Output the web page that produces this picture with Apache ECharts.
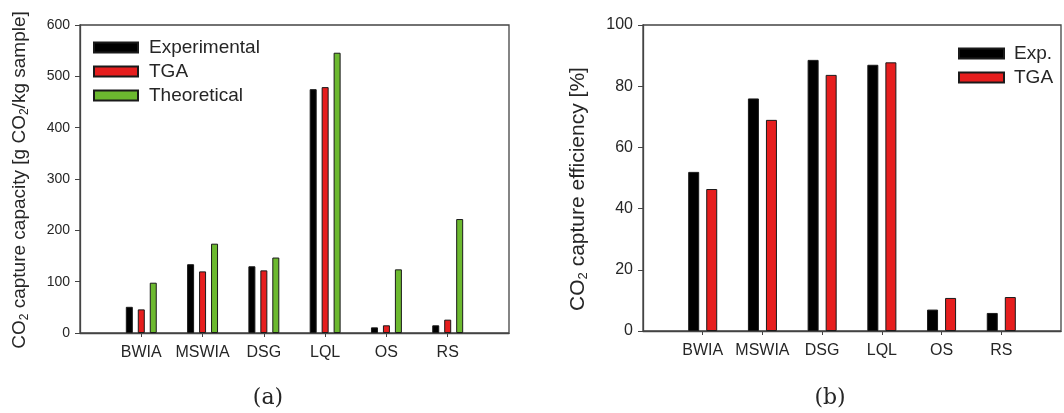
<!DOCTYPE html>
<html>
<head>
<meta charset="utf-8">
<script src="https://cdn.jsdelivr.net/npm/echarts@6/dist/echarts.min.js"></script>
<style>
  html, body { margin: 0; padding: 0; background: #fff; }
  #main { width: 1064px; height: 413px; }
</style>
</head>
<body>
<div id="main"></div>
<script>
// samples on the x axis
const categories = ['BWIA', 'MSWIA', 'DSG', 'LQL', 'OS', 'RS']

// (a) CO2 capture capacity [g CO2/kg sample]
const capExp = [51, 134, 130, 475, 11, 15]
const capTga = [46, 120, 122, 479, 15, 26]
const capTheo = [98, 174, 147, 546, 124, 222]

// (b) CO2 capture efficiency [%]
const effExp = [52, 76, 88.6, 87, 7, 5.9]
const effTga = [46.4, 69, 83.7, 87.8, 10.8, 11.1]

const capTicks = [0, 600, 100]
const effTicks = [0, 100, 20]

const FONT = '"Liberation Sans", Arial, sans-serif'
const AXIS_COLOR = '#444'
const TEXT_COLOR = '#262626'

const BLACK = '#000000'
const RED = '#e61e1e'
const GREEN = '#6cb92f'

// empty slot at both ends so categories sit on 1..6 of a 0..7 axis
const pad = arr => [null, ...arr, null]
const xCats = pad(categories).map(c => c || '')

const chart = echarts.init(document.getElementById('main'))

function xAxisFor(gridIndex, fontSize) {
  return {
    type: 'category',
    gridIndex,
    data: xCats,
    boundaryGap: false,
    axisLine: { lineStyle: { color: AXIS_COLOR, width: 1.3 } },
    axisTick: {
      length: 4,
      lineStyle: { color: AXIS_COLOR },
      interval: (idx, val) => val !== ''
    },
    axisLabel: {
      interval: 0,
      margin: 12,
      color: TEXT_COLOR,
      fontFamily: FONT,
      fontSize
    },
    splitLine: { show: false }
  }
}

function yAxisFor(gridIndex, ticks, fontSize) {
  return {
    type: 'value',
    gridIndex,
    min: ticks[0],
    max: ticks[1],
    interval: ticks[2],
    axisLine: { show: true, lineStyle: { color: AXIS_COLOR, width: 1.3 } },
    axisTick: { show: true, length: 5, lineStyle: { color: AXIS_COLOR } },
    axisLabel: { margin: 10, color: TEXT_COLOR, fontFamily: FONT, fontSize },
    splitLine: { show: false }
  }
}

function barSeries(name, data, color, idx, barWidth, barGap) {
  return {
    name,
    type: 'bar',
    xAxisIndex: idx,
    yAxisIndex: idx,
    data: pad(data),
    barWidth,
    barGap,
    itemStyle: { color, borderColor: '#1a1a1a', borderWidth: 1 },
    emphasis: { disabled: true }
  }
}

function titleRich(size, subSize) {
  return {
    a: { fontFamily: FONT, fontSize: size, fill: TEXT_COLOR, color: TEXT_COLOR },
    s: { fontFamily: FONT, fontSize: subSize, fill: TEXT_COLOR, color: TEXT_COLOR, verticalAlign: 'bottom', padding: [Math.round(size / 2), 0, 0, 0] }
  }
}

const option = {
  animation: false,
  backgroundColor: '#fff',
  grid: [
    { left: 80, top: 25, width: 429, height: 308, show: true, borderColor: AXIS_COLOR, borderWidth: 1.3 },
    { left: 643, top: 25, width: 424, height: 306, show: true, borderColor: AXIS_COLOR, borderWidth: 1.3 }
  ],
  legend: [
    {
      data: ['Experimental', 'TGA', 'Theoretical'],
      orient: 'vertical',
      left: 93,
      top: 38,
      padding: 0,
      itemGap: 5,
      itemWidth: 44,
      itemHeight: 10,
      icon: 'rect',
      selectedMode: false,
      textStyle: { fontFamily: FONT, fontSize: 19, color: TEXT_COLOR, padding: [0, 0, 0, 6] }
    },
    {
      data: ['Exp.', 'TGA'],
      orient: 'vertical',
      left: 958,
      top: 44,
      padding: 0,
      itemGap: 5,
      itemWidth: 45,
      itemHeight: 10,
      icon: 'rect',
      selectedMode: false,
      textStyle: { fontFamily: FONT, fontSize: 19, color: TEXT_COLOR, padding: [0, 0, 0, 5] }
    }
  ],
  xAxis: [xAxisFor(0, 16), xAxisFor(1, 16)],
  yAxis: [yAxisFor(0, capTicks, 14), yAxisFor(1, effTicks, 16)],
  series: [
    barSeries('Experimental', capExp, BLACK, 0, 7, '71%'),
    barSeries('TGA', capTga, RED, 0, 7, '71%'),
    barSeries('Theoretical', capTheo, GREEN, 0, 7, '71%'),
    barSeries('Exp.', effExp, BLACK, 1, 11, '64%'),
    barSeries('TGA', effTga, RED, 1, 11, '64%')
  ],
  graphic: [
    {
      type: 'text',
      x: 20,
      y: 180,
      rotation: Math.PI / 2,
      style: {
        text: '{a|CO}{s|2}{a| capture capacity [g CO}{s|2}{a|/kg sample]}',
        rich: titleRich(19, 12),
        align: 'center',
        verticalAlign: 'middle'
      }
    },
    {
      type: 'text',
      x: 578,
      y: 189,
      rotation: Math.PI / 2,
      style: {
        text: '{a|CO}{s|2}{a| capture efficiency [%]}',
        rich: titleRich(21, 13),
        align: 'center',
        verticalAlign: 'middle'
      }
    },
    {
      type: 'text',
      x: 268,
      y: 398,
      style: { text: '(a)', font: '22px "DejaVu Serif", serif', fill: TEXT_COLOR, align: 'center', verticalAlign: 'middle' }
    },
    {
      type: 'text',
      x: 830,
      y: 398,
      style: { text: '(b)', font: '22px "DejaVu Serif", serif', fill: TEXT_COLOR, align: 'center', verticalAlign: 'middle' }
    }
  ]
}

chart.setOption(option)
</script>
</body>
</html>
